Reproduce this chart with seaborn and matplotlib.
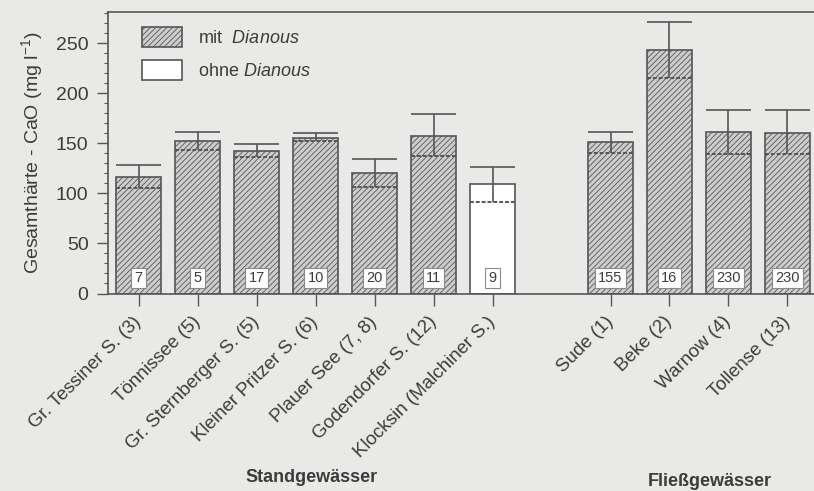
import matplotlib
matplotlib.use("Agg")
import matplotlib.pyplot as plt
from matplotlib.patches import Patch
from matplotlib.ticker import MultipleLocator
import seaborn as sns
import pandas as pd

# Lakes and rivers (sampling site numbers in brackets)
standing = ["Gr. Tessiner S. (3)", "Tönnissee (5)", "Gr. Sternberger S. (5)",
            "Kleiner Pritzer S. (6)", "Plauer See (7, 8)", "Godendorfer S. (12)",
            "Klocksin (Malchiner S.)"]
flowing = ["Sude (1)", "Beke (2)", "Warnow (4)", "Tollense (13)"]

# Total hardness CaO (mg/l): bar height, inner line, upper whisker
bar_std = [116.5, 152.5, 142, 155, 120, 157.5, 109]
mid_std = [105, 143.5, 136, 152, 106, 137, 91.5]
top_std = [128.5, 161, 149, 160, 134, 179, 126]
bar_flo = [151, 243.5, 161, 160]
mid_flo = [140, 215, 139.5, 139.5]
top_flo = [161.5, 271, 183, 183]

# number of samples
n_std = [7, 5, 17, 10, 20, 11, 9]
n_flo = [155, 16, 230, 230]

# Dianous present?
dia_std = ["mit", "mit", "mit", "mit", "mit", "mit", "ohne"]
dia_flo = ["mit", "mit", "mit", "mit"]

names = standing + flowing
pos = list(range(len(standing))) + [len(standing) + 1 + i for i in range(len(flowing))]
df = pd.DataFrame({
    "name": names,
    "pos": pos,
    "bar": bar_std + bar_flo,
    "mid": mid_std + mid_flo,
    "top": top_std + top_flo,
    "n": n_std + n_flo,
    "dia": dia_std + dia_flo,
})

sns.set_theme(style="white")
plt.rcParams["font.family"] = ["Liberation Sans", "DejaVu Sans"]
plt.rcParams["mathtext.fontset"] = "custom"
plt.rcParams["mathtext.rm"] = "Liberation Sans"
plt.rcParams["mathtext.it"] = "Liberation Sans:italic"
plt.rcParams["hatch.linewidth"] = 0.6

ink = "#3c3c3c"
paper = "#e9e9e7"
grey = "#cdcdcd"
edge = "#555555"

fig = plt.figure(figsize=(8.14, 4.91), dpi=100, facecolor=paper)
ax = fig.add_axes([108 / 814, 1 - 293.5 / 491, 1 - 108 / 814, 281.5 / 491])
ax.set_facecolor(paper)

width = 0.76
sns.barplot(data=df, x="pos", y="bar", hue="dia", native_scale=True,
            palette={"mit": grey, "ohne": "white"}, dodge=False, width=width,
            edgecolor=edge, linewidth=1.2, legend=False, ax=ax)

for p in ax.patches:
    if p.get_facecolor()[0] < 0.9:
        p.set_hatch("//////")
        p.set_edgecolor(edge)

# inner line, whisker and cap
ax.hlines(df["mid"], df["pos"] - width / 2, df["pos"] + width / 2,
          colors=edge, linewidth=1.4, linestyles=(0, (2, 1)), zorder=3)
ax.vlines(df["pos"], df["mid"], df["top"], colors=edge, linewidth=1.2, zorder=3)
ax.hlines(df["top"], df["pos"] - width / 2, df["pos"] + width / 2,
          colors=edge, linewidth=1.2, zorder=3)

# sample counts
for x, n in zip(df["pos"], df["n"]):
    ax.text(x, 15.5, str(n), ha="center", va="center", fontsize=10.5, color=ink,
            bbox=dict(boxstyle="square,pad=0.22", fc="white", ec="#8a8a8a", lw=0.8),
            zorder=4)

ax.set_xlim(-0.52, 11.45)
ax.set_ylim(0, 281)
ax.set_xticks(df["pos"])
ax.set_xticklabels(df["name"], rotation=45, ha="right", va="center",
                   rotation_mode="anchor", fontsize=13.5, color=ink)
ax.set_xlabel("")
ax.set_yticks(range(0, 251, 50))
ax.yaxis.set_minor_locator(MultipleLocator(10))
ax.tick_params(axis="y", which="major", left=True, length=8, width=1, color=edge,
               labelsize=14, labelcolor=ink, pad=6)
ax.tick_params(axis="y", which="minor", left=True, length=3, width=0.8, color=edge)
ax.tick_params(axis="x", bottom=True, length=8.5, width=1, color=edge, pad=10)
ax.set_ylabel("Gesamthärte - CaO (mg l$^{-1}$)", fontsize=14, color=ink, labelpad=8)

for side in ("left", "bottom", "top"):
    ax.spines[side].set_visible(True)
    ax.spines[side].set_color(edge)
    ax.spines[side].set_linewidth(1.2)
ax.spines["right"].set_visible(False)

handles = [Patch(facecolor=grey, edgecolor=edge, hatch="//////", linewidth=1.2),
           Patch(facecolor="white", edgecolor=edge, linewidth=1.2)]
ax.legend(handles, ["mit  $\\it{Dianous}$", "ohne $\\it{Dianous}$"],
          loc="upper left", bbox_to_anchor=(34 / 706, 1 - 15 / 281.5),
          frameon=False, borderpad=0, borderaxespad=0, fontsize=13,
          handlelength=2.2, handleheight=1.3, handletextpad=0.9,
          labelspacing=0.75, labelcolor=ink)

fig.text(312 / 814, 1 - 478 / 491, "Standgewässer", ha="center", va="center",
         fontsize=13, fontweight="bold", color=ink)
fig.text(710 / 814, 1 - 482 / 491, "Fließgewässer", ha="center", va="center",
         fontsize=13, fontweight="bold", color=ink)

fig.savefig("out.png", dpi=100, facecolor=paper)
